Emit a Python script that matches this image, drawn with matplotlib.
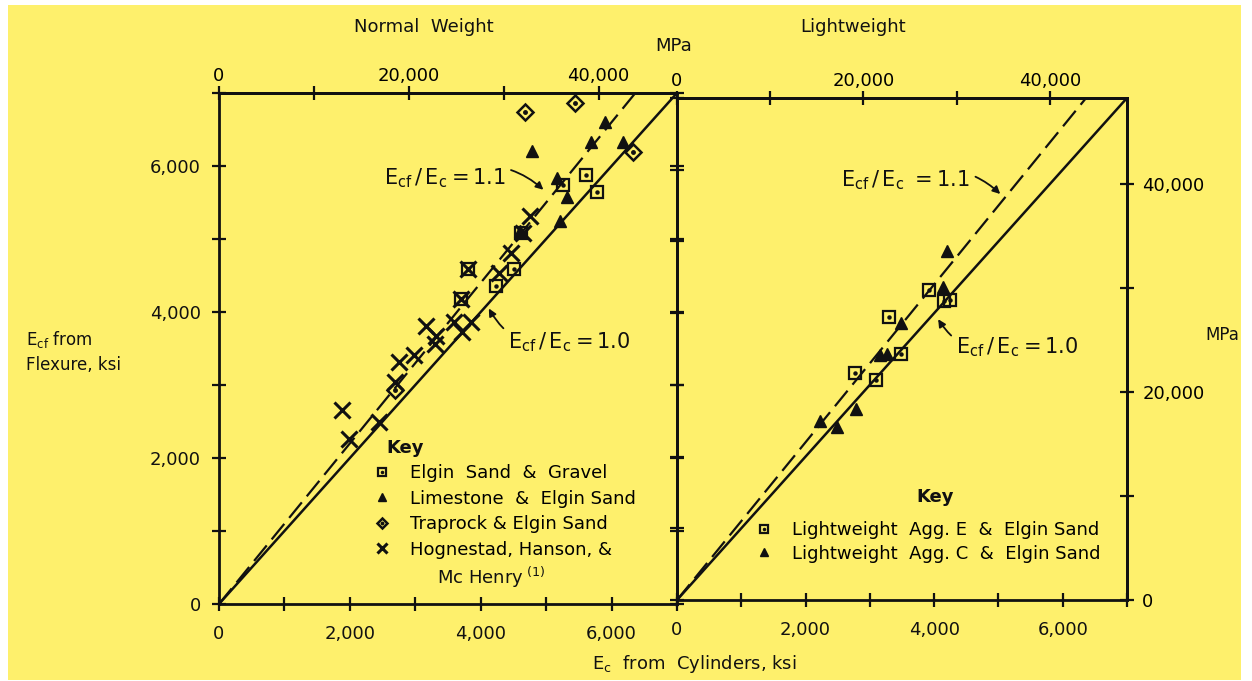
import matplotlib
matplotlib.use("Agg")
import matplotlib.pyplot as plt
from matplotlib.patches import Rectangle
from matplotlib.ticker import MultipleLocator, FixedLocator

# ---------------- data (ksi) ----------------
KSI_TO_MPA = 6.895

# Normal weight panel
elgin_x = [5255, 5614, 5777, 4513, 4232, 3812, 3695, 4621]
elgin_y = [5744, 5870, 5638, 4593, 4356, 4584, 4175, 5089]

lime_x = [5895, 5691, 6176, 4785, 5169, 5316, 5215, 4600]
lime_y = [6599, 6334, 6334, 6207, 5835, 5576, 5252, 5110]

trap_x = [4682, 5434, 6330, 2697]
trap_y = [6735, 6858, 6198, 2930]

hog_x = [4754, 4463, 3812, 4283, 3695, 3592, 3849, 3720, 3158, 3311, 3301,
         2748, 2978, 2697, 1878, 2441, 1980, 4640]
hog_y = [5311, 4812, 4584, 4539, 4175, 3857, 3857, 3720, 3802, 3674, 3561,
         3311, 3411, 3040, 2651, 2493, 2265, 5080]

# Lightweight panel
lwe_x = [3916, 4150, 4240, 3295, 3487, 2763, 3089]
lwe_y = [4323, 4175, 4190, 3951, 3431, 3170, 3068]

lwc_x = [4196, 4133, 3487, 3151, 3264, 2778, 2230, 2488]
lwc_y = [4871, 4369, 3859, 3417, 3431, 2659, 2500, 2408]

ratios = [1.0, 1.1]
line_x = [0, 7000]

ksi_ticks = [0, 2000, 4000, 6000]
ksi_labels = ["0", "2,000", "4,000", "6,000"]
mpa_ticks = [0, 10000, 20000, 30000, 40000]
mpa_labels = ["0", "", "20,000", "", "40,000"]

# ---------------- style ----------------
plt.rcParams["font.family"] = ["DejaVu Sans"]
plt.rcParams["mathtext.default"] = "regular"
INK = "#111111"
YELLOW = "#FEF06C"

W, H = 1252, 681
fig = plt.figure(figsize=(W / 100, H / 100), dpi=100)
fig.patch.set_facecolor("white")
fig.patches.append(Rectangle((8 / W, 1 - 680 / H), (1241 - 8) / W, (680 - 5) / H,
                             transform=fig.transFigure, facecolor=YELLOW,
                             edgecolor="none", zorder=-10))


def fx(px):
    return px / W


def fy(py):
    return 1 - py / H


axL = fig.add_axes([fx(219), fy(604), fx(677 - 219), fy(93) - fy(604)])
axR = fig.add_axes([fx(677), fy(600), fx(1127 - 677), fy(98) - fy(600)])

for ax in (axL, axR):
    ax.set_facecolor("none")
    ax.set_xlim(0, 7000)
    ax.set_ylim(0, 7000)
    for s in ax.spines.values():
        s.set_linewidth(2.0)
        s.set_color(INK)
    ax.xaxis.set_major_locator(FixedLocator(ksi_ticks))
    ax.xaxis.set_minor_locator(MultipleLocator(1000))
    ax.yaxis.set_major_locator(FixedLocator(ksi_ticks))
    ax.yaxis.set_minor_locator(MultipleLocator(1000))
    ax.tick_params(which="both", direction="inout", length=10, width=1.6,
                   color=INK, labelsize=13, labelcolor=INK)
    ax.tick_params(axis="x", which="both", top=False, pad=10)
    # reference lines
    ax.plot(line_x, [ratios[0] * v for v in line_x], color=INK, lw=1.8,
            clip_on=True, zorder=2)
    ax.plot(line_x, [ratios[1] * v for v in line_x], color=INK, lw=1.6,
            dashes=(9, 3.5), clip_on=True, zorder=2)
    ax.set_xticks(ksi_ticks, ksi_labels)

# left panel axes labels
axL.set_yticks(ksi_ticks, ksi_labels)
axL.tick_params(axis="y", which="both", left=True, right=True, pad=8)
axR.tick_params(axis="y", which="both", left=True, right=False, labelleft=False)

# top MPa axes
for ax in (axL, axR):
    sec = ax.secondary_xaxis("top", functions=(lambda v: v * KSI_TO_MPA,
                                               lambda v: v / KSI_TO_MPA))
    sec.set_xticks(mpa_ticks, mpa_labels)
    sec.tick_params(direction="inout", length=10, width=1.6, color=INK,
                    labelsize=13, pad=0.5)
    sec.spines["top"].set_linewidth(2.0)

secR = axR.secondary_yaxis("right", functions=(lambda v: v * KSI_TO_MPA,
                                               lambda v: v / KSI_TO_MPA))
secR.set_yticks(mpa_ticks, mpa_labels)
secR.tick_params(direction="inout", length=10, width=1.6, color=INK,
                 labelsize=13, pad=6)
secR.spines["right"].set_linewidth(2.0)

# ---------------- markers ----------------
ms = 9


def square_dot(ax, x, y, size=ms):
    a = ax.plot(x, y, ls="none", marker="s", ms=size, mfc="none", mec=INK,
                mew=1.6, zorder=4, clip_on=False)[0]
    b = ax.plot(x, y, ls="none", marker="o", ms=2.2, mfc=INK, mec=INK,
                zorder=4, clip_on=False)[0]
    return (a, b)


def diamond_dot(ax, x, y, size=ms + 1):
    a = ax.plot(x, y, ls="none", marker="D", ms=size * 0.8, mfc="none", mec=INK,
                mew=1.8, zorder=4, clip_on=False)[0]
    b = ax.plot(x, y, ls="none", marker="o", ms=2.5, mfc=INK, mec=INK,
                zorder=4, clip_on=False)[0]
    return (a, b)


hE = square_dot(axL, elgin_x, elgin_y)
hL = axL.plot(lime_x, lime_y, ls="none", marker="^", ms=ms, mfc=INK, mec=INK,
              zorder=4, clip_on=False)[0]
hT = diamond_dot(axL, trap_x, trap_y)
hH = axL.plot(hog_x, hog_y, ls="none", marker="x", ms=ms + 2, mew=2.2, mec=INK,
              zorder=4, clip_on=False)[0]

hLE = square_dot(axR, lwe_x, lwe_y)
hLC = axR.plot(lwc_x, lwc_y, ls="none", marker="^", ms=ms, mfc=INK, mec=INK,
               zorder=4, clip_on=False)[0]

# ---------------- legends ----------------
leg_kw = dict(loc="upper left", frameon=False, fontsize=13, handlelength=1.0,
              handletextpad=1.05, borderpad=0, markerscale=0.7)
fig.legend([hE, hL, hT, hH],
           ["Elgin  Sand  &  Gravel", "Limestone  &  Elgin Sand",
            "Traprock & Elgin Sand", "Hognestad, Hanson, &"],
           bbox_to_anchor=(fx(364), fy(455)), labelspacing=0.42, **leg_kw)
fig.text(fx(437), fy(577), r"Mc Henry$^{\ (1)}$", fontsize=13, ha="left",
         va="center", color=INK)
fig.text(fx(405), fy(448), "Key", fontsize=13, fontweight="bold",
         ha="center", va="center", color=INK)

fig.legend([hLE, hLC],
           ["Lightweight  Agg. E  &  Elgin Sand",
            "Lightweight  Agg. C  &  Elgin Sand"],
           bbox_to_anchor=(fx(746), fy(512)), labelspacing=0.32, **leg_kw)
fig.text(fx(935), fy(497), "Key", fontsize=13, fontweight="bold",
         ha="center", va="center", color=INK)

# ---------------- annotations ----------------
ann_kw = dict(fontsize=15, color=INK, va="center")
axL.annotate(r"$E_{cf}\,/\,E_c = 1.1$", xy=(4974, 5662), xytext=(4380, 5839),
             ha="right", **ann_kw,
             arrowprops=dict(arrowstyle="-|>", color=INK, lw=1.3,
                             connectionstyle="arc3,rad=-0.35",
                             shrinkA=2, shrinkB=1, mutation_scale=11))
axL.annotate(r"$E_{cf}\,/\,E_c = 1.0$", xy=(4114, 4065), xytext=(4420, 3588),
             ha="left", **ann_kw,
             arrowprops=dict(arrowstyle="-|>", color=INK, lw=1.3,
                             connectionstyle="arc3,rad=-0.4",
                             shrinkA=2, shrinkB=1, mutation_scale=11))
axR.annotate(r"$E_{cf}\,/\,E_c\ = 1.1$", xy=(5044, 5648), xytext=(4560, 5857),
             ha="right", **ann_kw,
             arrowprops=dict(arrowstyle="-|>", color=INK, lw=1.3,
                             connectionstyle="arc3,rad=-0.35",
                             shrinkA=2, shrinkB=1, mutation_scale=11))
axR.annotate(r"$E_{cf}\,/\,E_c = 1.0$", xy=(4051, 3932), xytext=(4340, 3528),
             ha="left", **ann_kw,
             arrowprops=dict(arrowstyle="-|>", color=INK, lw=1.3,
                             connectionstyle="arc3,rad=-0.4",
                             shrinkA=2, shrinkB=1, mutation_scale=11))

# ---------------- titles & labels ----------------
fig.text(fx(424), fy(27), "Normal  Weight", fontsize=13, ha="center",
         va="center", color=INK)
fig.text(fx(853), fy(27), "Lightweight", fontsize=13, ha="center",
         va="center", color=INK)
fig.text(fx(674), fy(46), "MPa", fontsize=13, ha="center", va="center",
         color=INK)
fig.text(fx(1222), fy(335), "MPa", fontsize=12, ha="center", va="center",
         color=INK)
fig.text(fx(694), fy(664), r"$E_c$  from  Cylinders, ksi", fontsize=13,
         ha="center", va="center", color=INK)
fig.text(fx(26), fy(340), r"$E_{cf}$ from", fontsize=12, ha="left",
         va="center", color=INK)
fig.text(fx(26), fy(365), "Flexure, ksi", fontsize=12, ha="left",
         va="center", color=INK)

fig.savefig("out.png", dpi=100, facecolor=fig.get_facecolor())
